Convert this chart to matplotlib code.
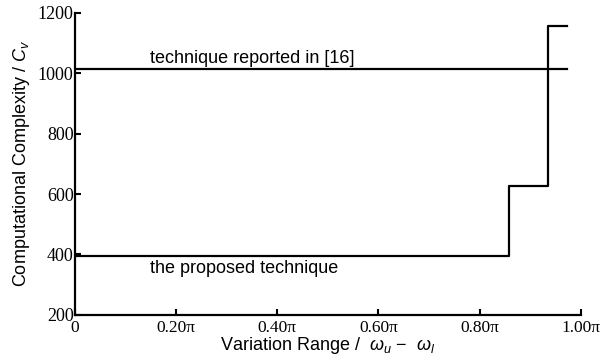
import matplotlib
matplotlib.use("Agg")
import matplotlib.pyplot as plt

# step points of the proposed technique (x in units of pi)
prop_x = [0, 0.858, 0.935, 0.973]
prop_y = [396, 628, 1156, 1156]
# technique reported in [16]
ref_x = [0, 0.973]
ref_y = [1014, 1014]

xticks = [0, 0.2, 0.4, 0.6, 0.8, 1.0]
xticklabels = ['0', '0.20\u03c0', '0.40\u03c0', '0.60\u03c0', '0.80\u03c0', '1.00\u03c0']
yticks = [200, 400, 600, 800, 1000, 1200]

plt.rcParams['mathtext.fontset'] = 'custom'
plt.rcParams['mathtext.rm'] = 'Liberation Sans'
plt.rcParams['mathtext.it'] = 'Liberation Sans:italic'

fig = plt.figure(figsize=(6, 3.64), dpi=100, facecolor='white')
ax = fig.add_axes([0.125, 0.135, 0.843, 0.83])

ax.plot(prop_x, prop_y, 'k', lw=1.6, drawstyle='steps-post')
ax.plot(ref_x, ref_y, 'k', lw=1.6)

ax.set_xlim(0, 1.0)
ax.set_ylim(200, 1200)
ax.set_xticks(xticks)
ax.set_xticklabels(xticklabels, family='Liberation Serif', fontsize=12.5)
ax.set_yticks(yticks)
ax.set_yticklabels([str(v) for v in yticks], family='Liberation Serif', fontsize=13)
ax.tick_params(direction='in', length=4, width=1.5, pad=1)
ax.tick_params(axis='x', pad=4)

for s in ['top', 'right']:
    ax.spines[s].set_visible(False)
for s in ['left', 'bottom']:
    ax.spines[s].set_linewidth(1.6)

ax.set_xlabel(r'Variation Range /  $\omega_u$ $-$  $\omega_l$', family='Liberation Sans',
              fontsize=13, labelpad=-1)
ax.set_ylabel(r'Computational Complexity / $C_v$', family='Liberation Sans',
              fontsize=13, labelpad=4)

ax.text(0.148, 1022, 'technique reported in [16]', family='Liberation Sans',
        fontsize=13, va='bottom', ha='left')
ax.text(0.148, 380, 'the proposed technique', family='Liberation Sans',
        fontsize=13, va='top', ha='left')

fig.savefig('out.png', dpi=100)
